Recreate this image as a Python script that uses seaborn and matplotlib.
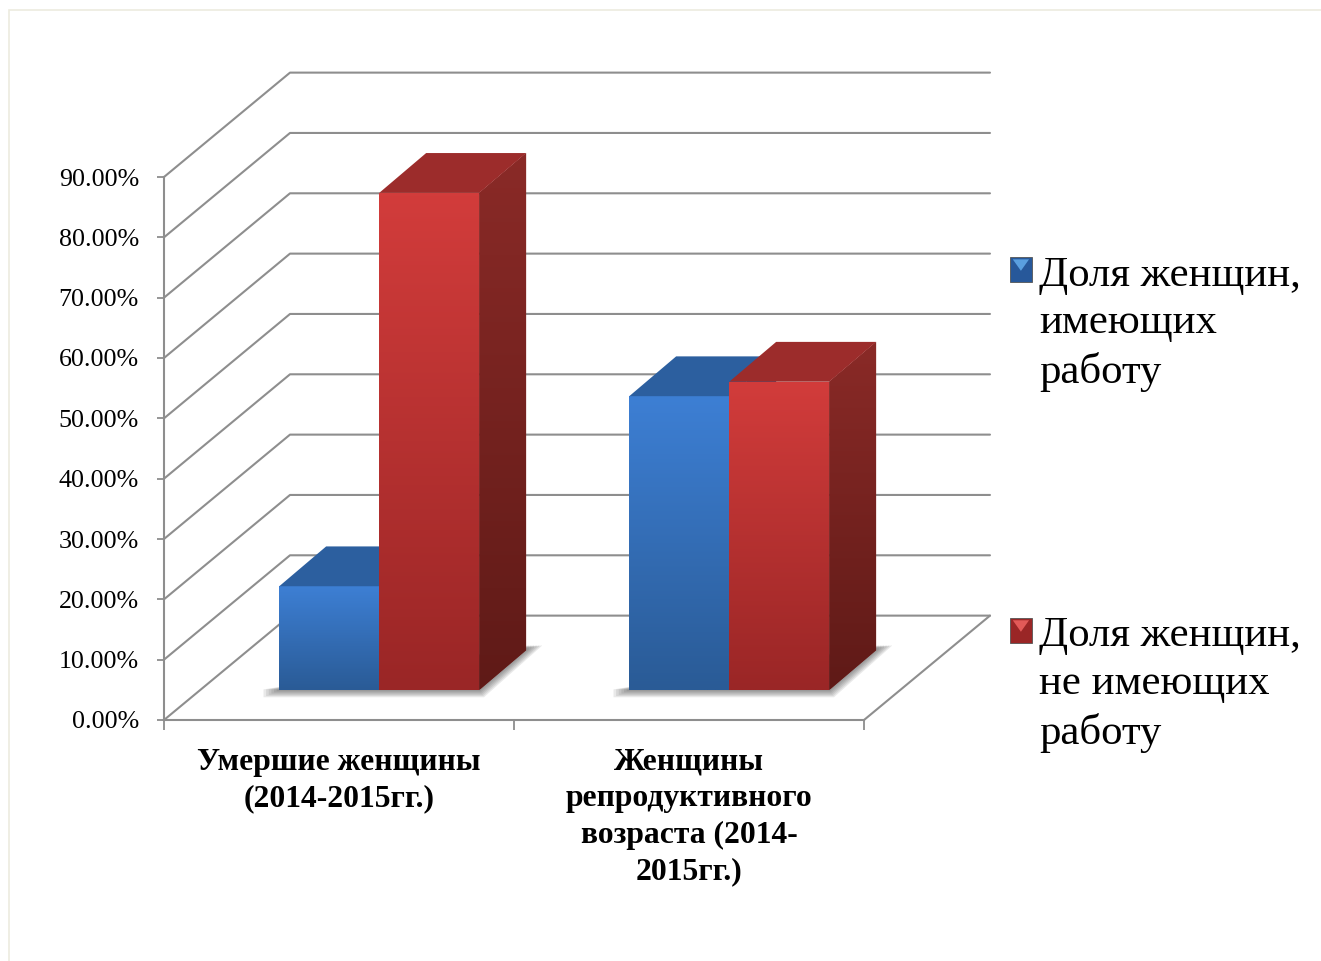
import numpy as np
import pandas as pd
import matplotlib
matplotlib.use("Agg")
import matplotlib.pyplot as plt
from matplotlib.colors import LinearSegmentedColormap
from matplotlib.legend_handler import HandlerBase
from matplotlib.patches import Patch, Polygon, Rectangle
from matplotlib.ticker import FixedLocator, FuncFormatter
import seaborn as sns

# ---------- data ----------
categories = ["Умершие женщины\n(2014-2015гг.)",
              "Женщины\nрепродуктивного\nвозраста (2014-\n2015гг.)"]
series_names = ["Доля женщин,\nимеющих\nработу", "Доля женщин,\nне имеющих\nработу"]
employed = [17.2, 48.7]
unemployed = [82.4, 51.1]
y_ticks = [0, 10, 20, 30, 40, 50, 60, 70, 80, 90]

# ---------- style ----------
sns.set_theme(style="white")
plt.rcParams["font.family"] = ["Liberation Serif", "DejaVu Serif"]
W, H = 1321, 961
GREY = "#8e8e8e"
FRONT = [("#2a5b96", "#3d7fd4"), ("#9a2626", "#d23c3b")]
SIDE = [("#1f4472", "#2b5e9c"), ("#5f1a17", "#8a2a27")]
TOP = ["#2c5f9f", "#9c2c2b"]
ICON = [("#27589a", "#5a9fdf"), ("#9a2626", "#e25a58")]

# 3-D projection, as fractions of category width and of the value axis
WALL_DX, WALL_DY = 0.36, 17.3
BAR_DX, BAR_DY = 0.134, 6.6
SHIFT_X, SHIFT_Y = 0.115, 4.97

df = pd.DataFrame({
    "group": categories * 2,
    "share": employed + unemployed,
    "kind": [series_names[0]] * 2 + [series_names[1]] * 2,
})

fig = plt.figure(figsize=(W / 100, H / 100), dpi=100, facecolor="white")
ax = fig.add_axes([164 / W, 1 - 720 / H, 700 / W, 543 / H], facecolor="none")
fig.add_artist(Rectangle((9 / W, -0.1), 1.2, 1.1 - 10 / H, transform=fig.transFigure,
                         fill=False, edgecolor="#ecebdf", linewidth=1.2))

sns.barplot(data=df, x="group", y="share", hue="kind", order=categories,
            hue_order=series_names, palette=[FRONT[0][1], FRONT[1][1]],
            width=0.5714, gap=0, legend=False, saturation=1, ax=ax, zorder=5)
ax.set_xlim(-0.5, 1.5)
ax.set_ylim(0, 90)

# ---------- walls and floor ----------
x0, x1 = ax.get_xlim()
for v in y_ticks:
    ax.plot([x0, x0 + WALL_DX, x1 + WALL_DX], [v, v + WALL_DY, v + WALL_DY],
            color=GREY, lw=1.5, clip_on=False, zorder=1)
ax.plot([x1, x1 + WALL_DX], [0, WALL_DY], color=GREY, lw=1.5, clip_on=False, zorder=1)


def gradient(cmap_colors, extent, clip, zorder):
    cmap = LinearSegmentedColormap.from_list("g", cmap_colors)
    im = ax.imshow(np.linspace(1, 0, 128)[:, None], cmap=cmap, extent=extent,
                   aspect="auto", zorder=zorder, interpolation="bilinear")
    im.set_clip_box(fig.bbox)
    im.set_clip_path(clip)
    return im


# ---------- move the seaborn bars on to the floor and give them depth ----------
for s, cont in enumerate(ax.containers):
    for patch in cont:
        patch.set_x(patch.get_x() + SHIFT_X)
        patch.set_y(SHIFT_Y)
        patch.set_linewidth(0)

# soft floor shadow under each pair of bars
for c in range(len(categories)):
    left = min(ax.containers[s][c].get_x() for s in range(2))
    right = max(ax.containers[s][c].get_x() + ax.containers[s][c].get_width() for s in range(2))
    for k in np.linspace(1, 0, 7):
        px, py = 0.045 * k, 1.2 * k
        ax.add_patch(Polygon(
            [(left - px, SHIFT_Y - py), (right + px * 0.3, SHIFT_Y - py),
             (right + BAR_DX + px, SHIFT_Y + BAR_DY + py * 0.6),
             (right + BAR_DX + px, SHIFT_Y + BAR_DY + 0.8),
             (left - px, SHIFT_Y + 0.1)],
            closed=True, facecolor="#303030", edgecolor="none",
            alpha=0.1, zorder=2, clip_on=False))

z = 5.0
for c in range(len(categories)):
    for s, cont in enumerate(ax.containers):
        p = cont[c]
        xa, xb = p.get_x(), p.get_x() + p.get_width()
        ya, yb = p.get_y(), p.get_y() + p.get_height()
        p.set_zorder(z)
        p.set_clip_on(False)
        gradient(FRONT[s], (xa, xb, ya, yb), p, z + 0.1)
        side = Polygon([(xb, ya), (xb + BAR_DX, ya + BAR_DY),
                        (xb + BAR_DX, yb + BAR_DY), (xb, yb)],
                       closed=True, facecolor=SIDE[s][1], edgecolor="none",
                       zorder=z + 0.2, clip_on=False)
        ax.add_patch(side)
        gradient(SIDE[s], (xb, xb + BAR_DX, ya, yb + BAR_DY), side, z + 0.3)
        ax.add_patch(Polygon([(xa, yb), (xb, yb), (xb + BAR_DX, yb + BAR_DY),
                              (xa + BAR_DX, yb + BAR_DY)],
                             closed=True, facecolor=TOP[s], edgecolor="none",
                             zorder=z + 0.4, clip_on=False))
        z += 1
ax.set_xlim(x0, x1)
ax.set_ylim(0, 90)

# ---------- axes ----------
sns.despine(ax=ax, top=True, right=True)
for side_name in ("left", "bottom"):
    ax.spines[side_name].set_color(GREY)
    ax.spines[side_name].set_linewidth(1.5)
    ax.spines[side_name].set_zorder(1.5)
ax.set_xlabel("")
ax.set_ylabel("")
ax.yaxis.set_major_locator(FixedLocator(y_ticks))
ax.yaxis.set_major_formatter(FuncFormatter(lambda v, _: f"{v:.2f}%"))
ax.tick_params(axis="y", left=True, length=5, width=1.3, color=GREY, pad=13,
               labelsize=18.7, labelcolor="black")
ax.set_xticks([0, 1])
ax.set_xticklabels(categories, fontweight="bold", fontsize=22.8, color="black",
                   linespacing=1.338)
ax.tick_params(axis="x", which="major", length=0, pad=20)
ax.xaxis.set_minor_locator(FixedLocator([-0.5, 0.5, 1.5]))
ax.tick_params(axis="x", which="minor", bottom=True, length=7, width=1.3, color=GREY)


# ---------- legend ----------
class IconHandler(HandlerBase):
    RAISE = 39  # points: sets the icon beside the first line of its label

    def create_artists(self, legend, orig, xd, yd, width, height, fontsize, trans):
        dark, light = orig.icon_colors
        y = -yd + self.RAISE
        base = Rectangle((-xd, y), width, height, facecolor=dark, edgecolor="#555555",
                         linewidth=0.6, transform=trans)
        tri = Polygon([(-xd + 2, y + height - 1.5), (width - xd - 2, y + height - 1.5),
                       (width / 2 - xd, y + height * 0.45)],
                      closed=True, facecolor=light, edgecolor="none", transform=trans)
        return [base, tri]


handles = []
for s in range(2):
    h = Patch(label=series_names[s])
    h.icon_colors = ICON[s]
    handles.append(h)

leg = fig.legend(handles=handles, labels=series_names, loc="upper left",
                 bbox_to_anchor=(1010 / W, 1 - 256 / H), frameon=False,
                 prop={"family": "Liberation Serif", "size": 30.8},
                 handler_map={Patch: IconHandler()}, labelspacing=5.25,
                 handlelength=0.51, handleheight=0.51, handletextpad=0.17,
                 borderpad=0, borderaxespad=0, alignment="left")
for t in leg.get_texts():
    t.set_linespacing(1.32)
    t.set_color("black")

fig.savefig("out.png", dpi=100, facecolor="white")
